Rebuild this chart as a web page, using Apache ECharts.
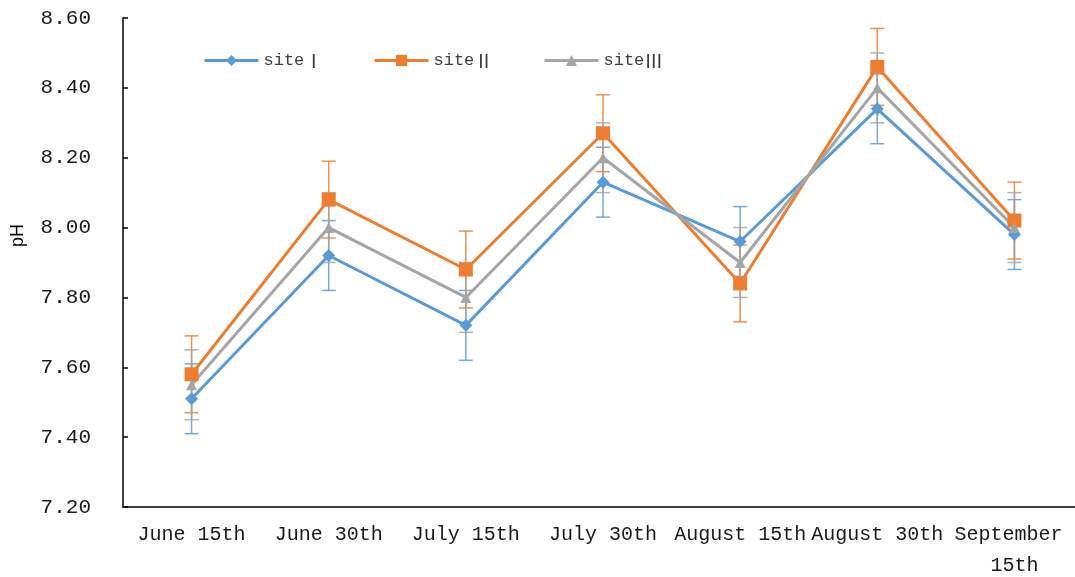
<!DOCTYPE html>
<html>
<head>
<meta charset="utf-8">
<title>pH by site</title>
<script src="https://cdn.jsdelivr.net/npm/echarts@6/dist/echarts.min.js"></script>
<style>
  html, body { margin: 0; padding: 0; background: #fff; }
  #chart { width: 1075px; height: 577px; }
</style>
</head>
<body>
<div id="chart"></div>
<script>
// Sampling dates
const categories = ['June 15th', 'June 30th', 'July 15th', 'July 30th', 'August 15th', 'August 30th', 'September 15th'];

// Mean pH per site
const site1 = [7.51, 7.92, 7.72, 8.13, 7.96, 8.34, 7.98];
const site2 = [7.58, 8.08, 7.88, 8.27, 7.84, 8.46, 8.02];
const site3 = [7.55, 8.00, 7.80, 8.20, 7.90, 8.40, 8.00];

// Standard deviation per site
const err1 = [0.10, 0.10, 0.10, 0.10, 0.10, 0.10, 0.10];
const err2 = [0.11, 0.11, 0.11, 0.11, 0.11, 0.11, 0.11];
const err3 = [0.10, 0.10, 0.10, 0.10, 0.10, 0.10, 0.10];

const siteNames = ['siteⅠ', 'siteⅡ', 'siteⅢ'];
const colors = ['#5B9BD5', '#ED7D31', '#A5A5A5'];

const serifMono = '"Liberation Mono", "DejaVu Sans Mono", "Noto Sans CJK SC", monospace';

function errorData(means, errs) {
  return means.map((m, i) => [i, m - errs[i], m + errs[i]]);
}

function errorSeries(name, means, errs, color) {
  return {
    type: 'custom',
    name: name + ' error',
    z: 1,
    silent: true,
    data: errorData(means, errs),
    encode: { x: 0, y: [1, 2] },
    renderItem: function (params, api) {
      const x = api.value(0);
      const lo = api.coord([x, api.value(1)]);
      const hi = api.coord([x, api.value(2)]);
      const half = 7;
      const style = { stroke: color, lineWidth: 1.5, opacity: 0.85 };
      return {
        type: 'group',
        children: [
          { type: 'line', shape: { x1: lo[0], y1: lo[1], x2: hi[0], y2: hi[1] }, style: style },
          { type: 'line', shape: { x1: hi[0] - half, y1: hi[1], x2: hi[0] + half, y2: hi[1] }, style: style },
          { type: 'line', shape: { x1: lo[0] - half, y1: lo[1], x2: lo[0] + half, y2: lo[1] }, style: style }
        ]
      };
    }
  };
}

function lineSeries(name, values, color, symbol, size) {
  return {
    type: 'line',
    name: name,
    z: 3,
    data: values,
    symbol: symbol,
    symbolSize: size,
    showAllSymbol: true,
    lineStyle: { color: color, width: 3 },
    itemStyle: { color: color },
    emphasis: { disabled: true }
  };
}

function legendAt(name, left) {
  return {
    data: [name],
    left: left,
    top: 51,
    padding: 0,
    itemWidth: 54,
    itemHeight: 14,
    itemGap: 0,
    lineStyle: { width: 3 },
    formatter: n => n.replace(/([Ⅰ-Ⅻ])/, '{r|$1}'),
    textStyle: {
      fontFamily: serifMono,
      fontSize: 17,
      color: '#404040',
      rich: {
        r: { fontFamily: '"Noto Sans CJK SC", "Noto Sans CJK JP", sans-serif', fontSize: 19, color: '#404040' }
      }
    },
    selectedMode: false
  };
}

const chart = echarts.init(document.getElementById('chart'), null, { renderer: 'canvas' });

chart.setOption({
  animation: false,
  color: colors,
  legend: [
    legendAt(siteNames[0], 203),
    legendAt(siteNames[1], 373),
    legendAt(siteNames[2], 543)
  ],
  grid: { left: 123, right: -8, top: 18, bottom: 70, containLabel: false, outerBoundsMode: 'none' },
  xAxis: {
    type: 'category',
    data: categories,
    boundaryGap: true,
    axisLine: { lineStyle: { color: '#000', width: 1.5 } },
    axisTick: { inside: true, length: 6, lineStyle: { color: '#000', width: 1.5 } },
    axisLabel: {
      interval: 0,
      margin: 12,
      fontFamily: serifMono,
      fontSize: 20,
      color: '#1a1a1a',
      width: 136,
      overflow: 'break',
      lineHeight: 31
    }
  },
  yAxis: {
    type: 'value',
    min: 7.2,
    max: 8.6,
    interval: 0.2,
    name: 'pH',
    nameLocation: 'middle',
    nameGap: 96,
    nameTextStyle: {
      fontFamily: '"Liberation Sans", Arial, sans-serif',
      fontSize: 18,
      color: '#000',
      padding: [0, 0, 0, 54]
    },
    axisLine: { show: true, lineStyle: { color: '#000', width: 1.5 } },
    axisTick: { show: true, inside: true, length: 5, lineStyle: { color: '#000', width: 1.5 } },
    splitLine: { show: false },
    axisLabel: {
      margin: 32,
      fontFamily: serifMono,
      fontSize: 21,
      color: '#1a1a1a',
      formatter: v => v.toFixed(2)
    }
  },
  series: [
    errorSeries(siteNames[0], site1, err1, colors[0]),
    errorSeries(siteNames[1], site2, err2, colors[1]),
    errorSeries(siteNames[2], site3, err3, colors[2]),
    lineSeries(siteNames[0], site1, colors[0], 'diamond', 13),
    lineSeries(siteNames[1], site2, colors[1], 'rect', 14),
    lineSeries(siteNames[2], site3, colors[2], 'triangle', 11)
  ]
});
</script>
</body>
</html>
